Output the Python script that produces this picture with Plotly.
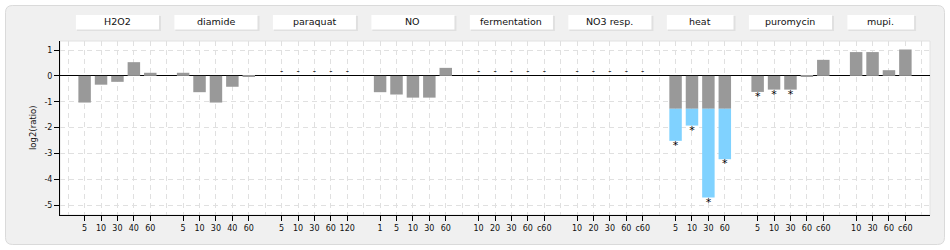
import plotly.graph_objects as go

# ---------------- data ----------------
groups = ["H2O2", "diamide", "paraquat", "NO", "fermentation", "NO3 resp.",
          "heat", "puromycin", "mupi."]
times_h2o2 = ["5", "10", "30", "40", "60"]
times_diamide = ["5", "10", "30", "40", "60"]
times_paraquat = ["5", "10", "30", "60", "120"]
times_no = ["1", "5", "10", "30", "60"]
times_ferm = ["10", "20", "30", "60", "c60"]
times_no3 = ["10", "20", "30", "60", "c60"]
times_heat = ["5", "10", "30", "60"]
times_puro = ["5", "10", "30", "60", "c60"]
times_mupi = ["10", "30", "60", "c60"]

vals_h2o2 = [-1.03, -0.34, -0.23, 0.53, 0.12]
vals_diamide = [0.12, -0.63, -1.03, -0.42, -0.03]
vals_paraquat = [None, None, None, None, None]
vals_no = [-0.63, -0.72, -0.84, -0.84, 0.31]
vals_ferm = [None, None, None, None, None]
vals_no3 = [None, None, None, None, None]
vals_heat = [-2.51, -1.92, -4.70, -3.22]
vals_puro = [-0.62, -0.53, -0.53, -0.03, 0.62]
vals_mupi = [0.92, 0.92, 0.22, 1.02]

sig_h2o2 = [0, 0, 0, 0, 0]
sig_diamide = [0, 0, 0, 0, 0]
sig_paraquat = [0, 0, 0, 0, 0]
sig_no = [0, 0, 0, 0, 0]
sig_ferm = [0, 0, 0, 0, 0]
sig_no3 = [0, 0, 0, 0, 0]
sig_heat = [1, 1, 1, 1]
sig_puro = [1, 1, 1, 0, 0]
sig_mupi = [0, 0, 0, 0]

split_level = -1.27   # portion of a bar below this level is shown in blue

times_all = [times_h2o2, times_diamide, times_paraquat, times_no, times_ferm,
             times_no3, times_heat, times_puro, times_mupi]
vals_all = [vals_h2o2, vals_diamide, vals_paraquat, vals_no, vals_ferm,
            vals_no3, vals_heat, vals_puro, vals_mupi]
sig_all = [sig_h2o2, sig_diamide, sig_paraquat, sig_no, sig_ferm,
           sig_no3, sig_heat, sig_puro, sig_mupi]

# ---------------- layout constants ----------------
W, H = 950, 250
L, R, T, B = 60, 20, 41, 35
PW, PH = W - L - R, H - T - B

GRAY = "#999999"
BLUE = "#80d2ff"
GRID = "#e0e0e0"
DASH = "5px,4px"
FONT = "DejaVu Sans"

# slot positions: one blank slot before each group
xs, labels, vals, sigs, group_span = [], [], [], [], []
pos = 1
for g, t, v, s in zip(groups, times_all, vals_all, sig_all):
    start = pos
    for i in range(len(t)):
        xs.append(pos)
        labels.append(t[i])
        vals.append(v[i])
        sigs.append(s[i])
        pos += 1
    group_span.append((start, pos - 1))
    pos += 1
n_slots = pos  # includes trailing blank
x_range = [-0.5, n_slots - 0.5]


def px_x(p):
    return (p - L) / PW


def px_y(p):
    return (H - B - p) / PH


def slot_px(s):
    return L + (s - x_range[0]) / (x_range[1] - x_range[0]) * PW


fig = go.Figure()

# gray part of bars
gx = [x for x, v in zip(xs, vals) if v is not None]
gy = [max(v, split_level) for v in vals if v is not None]
fig.add_trace(go.Bar(x=gx, y=gy, width=0.76, marker_color=GRAY,
                     marker_line_width=0, showlegend=False, hoverinfo="skip"))
# blue part of bars
bx = [x for x, v in zip(xs, vals) if v is not None and v < split_level]
by = [v - split_level for v in vals if v is not None and v < split_level]
fig.add_trace(go.Bar(x=bx, y=by, base=[split_level] * len(bx), width=0.76,
                     marker_color=BLUE, marker_line_width=0,
                     showlegend=False, hoverinfo="skip"))

# missing-data dashes
mx = [x for x, v in zip(xs, vals) if v is None]
fig.add_trace(go.Scatter(x=mx, y=[0.0] * len(mx), mode="text",
                         text=["-"] * len(mx), textposition="top center",
                         textfont=dict(family=FONT, size=9, color="#000"),
                         showlegend=False, hoverinfo="skip"))

# significance stars
sx = [x for x, v, s in zip(xs, vals, sigs) if v is not None and s]
sy = [v for v, s in zip(vals, sigs) if v is not None and s]
fig.add_trace(go.Scatter(x=sx, y=sy, mode="text", text=["*"] * len(sx),
                         textposition="bottom center",
                         textfont=dict(family=FONT, size=11, color="#000"),
                         showlegend=False, hoverinfo="skip"))

shapes = []
# outer rounded panel
x0, x1, y0, y1, r = 5.5, 944.5, 5.5, 244.5, 7


def P(x, y):
    return f"{px_x(x):.6f},{px_y(y):.6f}"


path = (f"M {P(x0 + r, y0)} L {P(x1 - r, y0)} Q {P(x1, y0)} {P(x1, y0 + r)} "
        f"L {P(x1, y1 - r)} Q {P(x1, y1)} {P(x1 - r, y1)} "
        f"L {P(x0 + r, y1)} Q {P(x0, y1)} {P(x0, y1 - r)} "
        f"L {P(x0, y0 + r)} Q {P(x0, y0)} {P(x0 + r, y0)} Z")
shapes.append(dict(type="path", path=path, xref="paper", yref="paper",
                   fillcolor="#f0f0f0", line=dict(color="#dadada", width=1),
                   layer="below"))
# white plot area
shapes.append(dict(type="rect", xref="paper", yref="paper",
                   x0=0, x1=1, y0=0, y1=1, fillcolor="white",
                   line=dict(color="#e2e2e2", width=1), layer="below"))

annotations = []
# header boxes
for g, (s0, s1) in zip(groups, group_span):
    bx0 = slot_px(s0 - 0.5) - 0.5
    bx1 = slot_px(s1 + 0.5) + 0.5
    shapes.append(dict(type="rect", xref="paper", yref="paper",
                       x0=px_x(bx0 + 1), x1=px_x(bx1 + 2),
                       y0=px_y(16), y1=px_y(31), fillcolor="#e0e0e0",
                       line=dict(width=0), layer="below"))
    shapes.append(dict(type="rect", xref="paper", yref="paper",
                       x0=px_x(bx0), x1=px_x(bx1),
                       y0=px_y(15), y1=px_y(29.5), fillcolor="white",
                       line=dict(width=0), layer="below"))
    annotations.append(dict(x=px_x((bx0 + bx1) / 2), y=px_y(22), xref="paper",
                            yref="paper", text=g, showarrow=False,
                            xanchor="center", yanchor="middle",
                            font=dict(family=FONT, size=9.5, color="#111")))

annotations.append(dict(x=px_x(33), y=0.5, xref="paper", yref="paper",
                        text="log2(ratio)", textangle=-90, showarrow=False,
                        xanchor="center", yanchor="middle",
                        font=dict(family=FONT, size=8.5, color="#111")))

fig.update_layout(
    width=W, height=H,
    margin=dict(l=L, r=R, t=T, b=B),
    paper_bgcolor="white",
    plot_bgcolor="rgba(0,0,0,0)",
    barmode="overlay",
    shapes=shapes,
    annotations=annotations,
    xaxis=dict(range=x_range, tickmode="array", tickvals=xs, ticktext=labels,
               ticks="outside", ticklen=5, tickcolor="black", tickwidth=1,
               showline=True, linecolor="black", linewidth=1,
               showgrid=True, gridcolor=GRID, griddash=DASH, gridwidth=1,
               minor=dict(tickmode="array", tickvals=list(range(n_slots)),
                          showgrid=True, gridcolor=GRID, griddash=DASH,
                          ticks=""),
               tickfont=dict(family=FONT, size=8, color="#111"),
               zeroline=False, fixedrange=True),
    yaxis=dict(range=[-5.375, 1.348], tickmode="array",
               tickvals=[-5, -4, -3, -2, -1, 0, 1],
               ticktext=["-5", "-4", "-3", "-2", "-1", "0", "1"],
               ticks="outside", ticklen=5, tickcolor="black", tickwidth=1,
               showline=True, linecolor="black", linewidth=1,
               showgrid=True, gridcolor=GRID, griddash=DASH, gridwidth=1,
               zeroline=True, zerolinecolor="black", zerolinewidth=1,
               tickfont=dict(family=FONT, size=8, color="#111"),
               fixedrange=True),
)

fig.write_html("out.html")
